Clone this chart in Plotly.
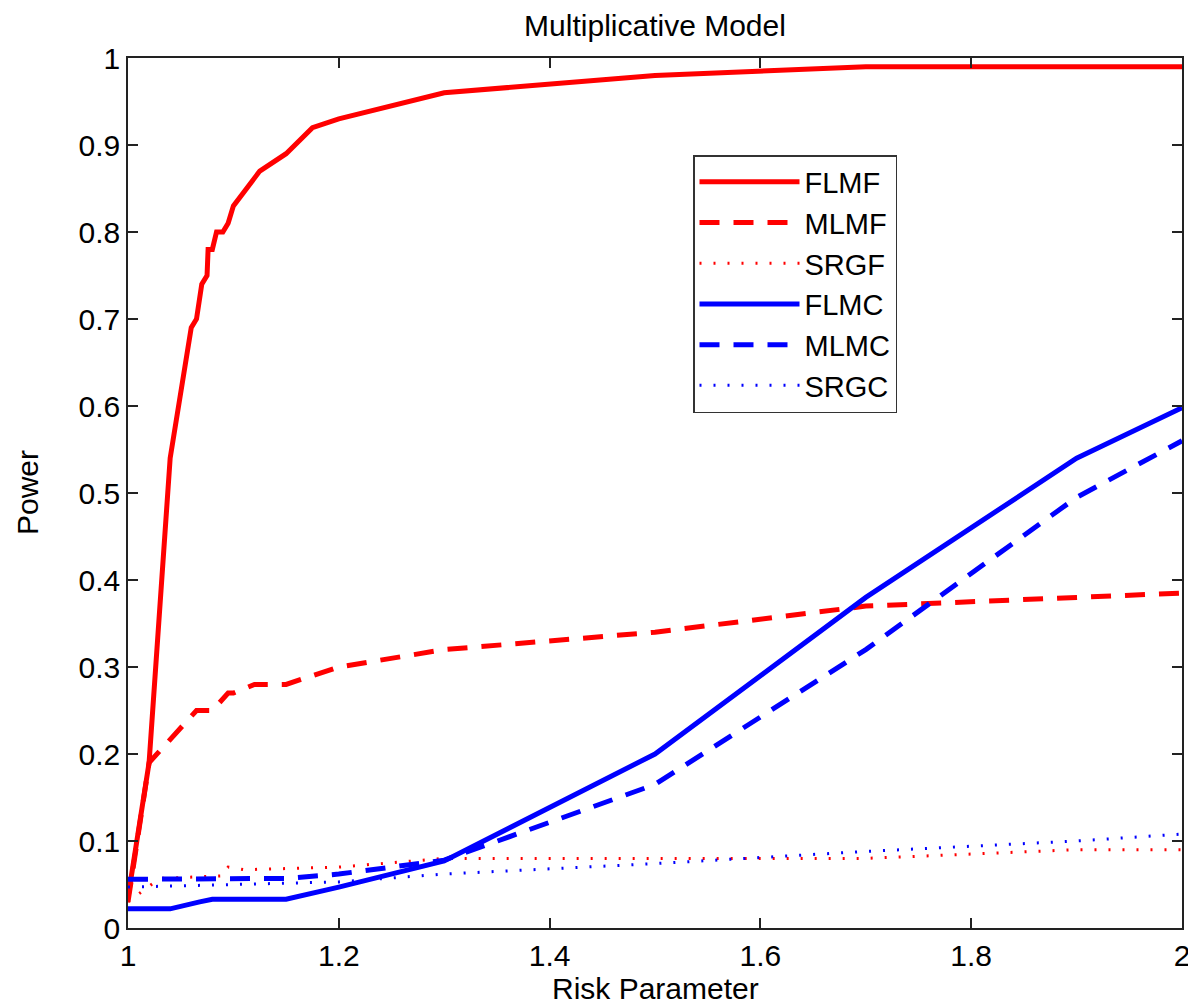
import plotly.graph_objects as go

# ---- data ----
flmf_x = [1.0, 1.02, 1.04, 1.06, 1.065, 1.07, 1.075, 1.076, 1.08, 1.084, 1.09, 1.095, 1.10, 1.125, 1.15, 1.175, 1.2, 1.3, 1.5, 1.7, 2.0]
flmf_y = [0.035, 0.19, 0.54, 0.69, 0.70, 0.74, 0.75, 0.78, 0.78, 0.80, 0.80, 0.81, 0.83, 0.87, 0.89, 0.92, 0.93, 0.96, 0.98, 0.99, 0.99]

mlmf_x = [1.0, 1.02, 1.065, 1.08, 1.095, 1.10, 1.12, 1.15, 1.2, 1.3, 1.5, 1.7, 1.9, 2.0]
mlmf_y = [0.03, 0.19, 0.25, 0.25, 0.27, 0.27, 0.28, 0.28, 0.30, 0.32, 0.34, 0.37, 0.38, 0.385]

srgf_x = [1.0, 1.03, 1.09, 1.095, 1.11, 1.2, 1.3, 1.7, 1.8, 1.9, 2.0]
srgf_y = [0.03, 0.057, 0.06, 0.07, 0.067, 0.07, 0.08, 0.08, 0.085, 0.09, 0.09]

flmc_x = [1.0, 1.04, 1.068, 1.08, 1.15, 1.2, 1.3, 1.5, 1.7, 1.9, 2.0]
flmc_y = [0.022, 0.022, 0.03, 0.033, 0.033, 0.047, 0.077, 0.20, 0.38, 0.54, 0.598]

mlmc_x = [1.0, 1.15, 1.2, 1.3, 1.5, 1.7, 1.9, 2.0]
mlmc_y = [0.056, 0.057, 0.062, 0.078, 0.165, 0.32, 0.495, 0.56]

srgc_x = [1.0, 1.1, 1.2, 1.3, 1.5, 1.7, 1.9, 2.0]
srgc_y = [0.047, 0.05, 0.053, 0.062, 0.074, 0.088, 0.10, 0.108]

x_ticks = [1, 1.2, 1.4, 1.6, 1.8, 2]
x_tick_labels = ["1", "1.2", "1.4", "1.6", "1.8", "2"]
y_ticks = [0, 0.1, 0.2, 0.3, 0.4, 0.5, 0.6, 0.7, 0.8, 0.9, 1]
y_tick_labels = ["0", "0.1", "0.2", "0.3", "0.4", "0.5", "0.6", "0.7", "0.8", "0.9", "1"]

RED = "#ff0000"
BLUE = "#0000ff"
DASH = "20px,14px"
DOT = "2px,12px"
FONT = "Liberation Sans, Arial, sans-serif"

series = [
    ("FLMF", flmf_x, flmf_y, RED, "solid", 5),
    ("MLMF", mlmf_x, mlmf_y, RED, DASH, 5),
    ("SRGF", srgf_x, srgf_y, RED, DOT, 3),
    ("FLMC", flmc_x, flmc_y, BLUE, "solid", 5),
    ("MLMC", mlmc_x, mlmc_y, BLUE, DASH, 5),
    ("SRGC", srgc_x, srgc_y, BLUE, DOT, 3),
]

fig = go.Figure()
for name, xs, ys, col, dash, w in series:
    fig.add_trace(go.Scatter(x=xs, y=ys, mode="lines", name=name,
                             line=dict(color=col, dash=dash, width=w)))

axis_common = dict(showline=True, linecolor="#222222", linewidth=1.5, mirror="allticks",
                   ticks="inside", ticklen=10, tickcolor="#222222", tickwidth=1.5,
                   showgrid=False, zeroline=False, automargin=False,
                   tickfont=dict(family=FONT, size=30, color="#000000"))

fig.update_xaxes(range=[1, 2], tickvals=x_ticks, ticktext=x_tick_labels, **axis_common)
fig.update_yaxes(range=[0, 1], tickvals=y_ticks, ticktext=y_tick_labels, **axis_common)

# page has an 8px body margin, so the figure is offset by (8, 8)
fig.update_layout(
    width=1188, height=997,
    margin=dict(l=120, r=14, t=50, b=77),
    plot_bgcolor="white", paper_bgcolor="white",
    font=dict(family=FONT, color="#000000"),
    title=dict(text="Multiplicative Model", x=(655 - 8) / 1188, xanchor="center",
               y=1 - 17 / 997, yanchor="middle", yref="container",
               font=dict(family=FONT, size=30, color="#000000")),
    showlegend=True,
    legend=dict(x=(693 - 128) / 1054, y=(928 - 155) / 870, xanchor="left", yanchor="top",
                bgcolor="white", bordercolor="#333333", borderwidth=1.5,
                font=dict(family=FONT, size=29, color="#000000"),
                itemwidth=100, tracegroupgap=0),
    annotations=[
        dict(text="Risk Parameter", x=0.5, y=-0.069, xref="paper", yref="paper",
             xanchor="center", yanchor="middle", showarrow=False,
             font=dict(family=FONT, size=30, color="#000000")),
        dict(text="Power", x=-0.0958, y=0.5, xref="paper", yref="paper",
             xanchor="center", yanchor="middle", showarrow=False, textangle=-90,
             font=dict(family=FONT, size=30, color="#000000")),
    ],
)

fig.write_html("out.html")
